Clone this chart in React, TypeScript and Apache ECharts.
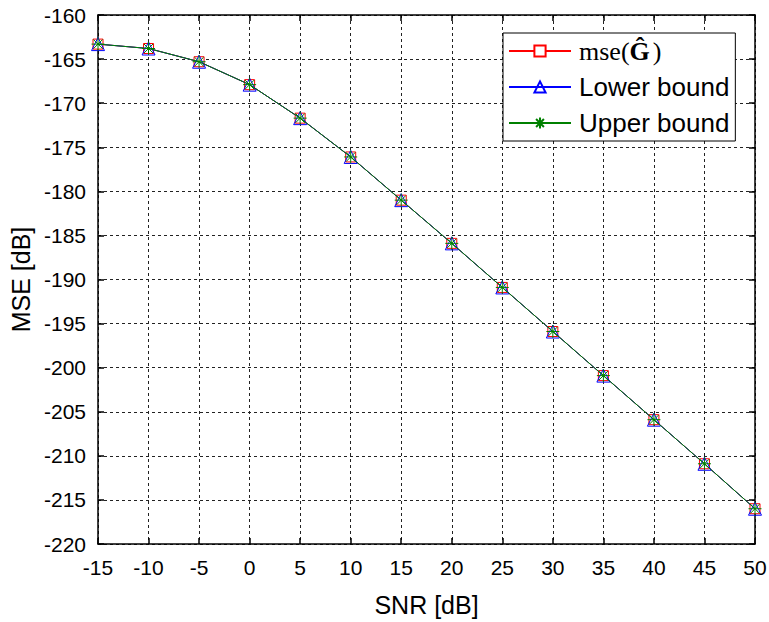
import React, { useEffect, useRef } from "react";
import * as echarts from "echarts";

const snr = [-15, -10, -5, 0, 5, 10, 15, 20, 25, 30, 35, 40, 45, 50];
const mseG = [-163.3, -163.8, -165.3, -167.9, -171.7, -176.1, -181.0, -185.9, -190.9, -195.9, -200.9, -205.9, -210.9, -216.0];
const lowerBound = [-163.3, -163.8, -165.3, -167.9, -171.7, -176.1, -181.0, -185.9, -190.9, -195.9, -200.9, -205.9, -210.9, -216.0];
const upperBound = [-163.3, -163.8, -165.3, -167.9, -171.7, -176.1, -181.0, -185.9, -190.9, -195.9, -200.9, -205.9, -210.9, -216.0];
const seriesNames = ["mse(G)", "Lower bound", "Upper bound"];

const FONT = "'Liberation Sans', Arial, sans-serif";
const SERIF = "'Liberation Serif', 'DejaVu Serif', serif";
const STAR = "path://M0,-10L0,10M-10,0L10,0M-7,-7L7,7M-7,7L7,-7";

export default function App() {
  const ref = useRef<HTMLDivElement>(null);
  useEffect(() => {
    if (!ref.current) return;
    const chart = echarts.init(ref.current, null, { renderer: "svg" });
    const pairs = (ys: number[]) => snr.map((x, i) => [x, ys[i]]);
    const axisCommon = {
      type: "value" as const,
      axisLine: { show: true, onZero: false, lineStyle: { color: "#000", width: 1.5 } },
      axisTick: { show: true, inside: true, length: 6, lineStyle: { color: "#000", width: 1.5 } },
    };
    chart.setOption({
      animation: false,
      backgroundColor: "#fff",
      grid: { left: 98, top: 15, right: 14, bottom: 78, containLabel: false, outerBoundsMode: "none" },
      legend: {
        left: 503,
        top: 33,
        orient: "vertical",
        itemWidth: 62,
        itemHeight: 14,
        itemGap: 10,
        padding: [5, 6, 5, 5],
        borderColor: "#000",
        borderWidth: 1,
        backgroundColor: "#fff",
        data: seriesNames,
        formatter: (name: string) =>
          name === "mse(G)" ? "{s|mse(}{b|Ĝ}{s|)}" : "{a|" + name + "}",
        textStyle: {
          fontSize: 26,
          color: "#000",
          fontFamily: FONT,
          rich: {
            a: { fontSize: 26, fontFamily: FONT, color: "#000", padding: [0, 0, 0, 3] },
            s: { fontSize: 26, fontFamily: SERIF, color: "#000", padding: [0, 0, 0, 3] },
            b: { fontSize: 26, fontWeight: "bold", fontFamily: SERIF, color: "#000" },
          },
        },
      },
      xAxis: [
        {
          ...axisCommon,
          min: -15,
          max: 50,
          interval: 5,
          name: "SNR [dB]",
          nameLocation: "middle",
          nameGap: 48,
          nameTextStyle: { fontSize: 25, fontFamily: FONT, color: "#000" },
          axisLabel: { fontSize: 21, fontFamily: FONT, color: "#000", margin: 13 },
          splitLine: { show: true, lineStyle: { color: "#222", type: [3, 3], width: 1 } },
        },
        {
          ...axisCommon,
          position: "top",
          min: -15,
          max: 50,
          interval: 5,
          axisLabel: { show: false },
          splitLine: { show: false },
        },
      ],
      yAxis: [
        {
          ...axisCommon,
          min: -220,
          max: -160,
          interval: 5,
          name: "MSE [dB]",
          nameLocation: "middle",
          nameGap: 62,
          nameTextStyle: { fontSize: 25, fontFamily: FONT, color: "#000" },
          axisLabel: { fontSize: 21, fontFamily: FONT, color: "#000", margin: 12 },
          splitLine: { show: true, lineStyle: { color: "#222", type: [3, 3], width: 1 } },
        },
        {
          ...axisCommon,
          position: "right",
          min: -220,
          max: -160,
          interval: 5,
          axisLabel: { show: false },
          splitLine: { show: false },
        },
      ],
      series: [
        {
          name: seriesNames[0],
          type: "line",
          data: pairs(mseG),
          symbol: "rect",
          symbolSize: 10,
          lineStyle: { color: "#ff0000", width: 1 },
          itemStyle: { color: "#fff", borderColor: "#ff0000", borderWidth: 1 },
          z: 3,
        },
        {
          name: seriesNames[1],
          type: "line",
          data: pairs(lowerBound),
          symbol: "triangle",
          symbolSize: 13,
          lineStyle: { color: "#0000ff", width: 1 },
          itemStyle: { color: "transparent", borderColor: "#0000ff", borderWidth: 1 },
          z: 4,
        },
        {
          name: seriesNames[2],
          type: "line",
          data: pairs(upperBound),
          symbol: STAR,
          symbolSize: 13,
          lineStyle: { color: "#008000", width: 1 },
          itemStyle: { color: "transparent", borderColor: "#008000", borderWidth: 1 },
          z: 5,
        },
      ],
    });
    return () => chart.dispose();
  }, []);
  return (
    <div
      ref={ref}
      style={{ position: "absolute", left: 0, top: 0, width: 769, height: 622 }}
    />
  );
}
